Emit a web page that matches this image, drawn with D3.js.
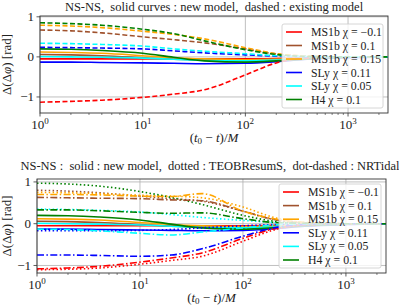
<!DOCTYPE html>
<html><head><meta charset="utf-8">
<script src="https://cdn.jsdelivr.net/npm/d3@7"></script>
<style>body{margin:0;background:#fff}svg{display:block}text{font-family:"Liberation Serif","DejaVu Serif",serif;fill:#222}</style>
</head><body><svg id="c" width="399" height="306"></svg>
<script>
// ---- data ----
const T = [1, 2, 4, 10, 20, 40, 100, 200, 400, 1000, 2450];
const labels = ["MS1b χ = −0.1", "MS1b χ = 0.1", "MS1b χ = 0.15", "SLy χ = 0.11", "SLy χ = 0.05", "H4 χ = 0.1"];
const colors = ["#ff0000", "#a0522d", "#ffa500", "#0000ff", "#00ffff", "#008000"];
const xTicks = [1, 10, 100, 1000];
const yTicks = [-1, 0, 1];
// new model (solid)
const newRed    = [-0.05, -0.05, -0.05, -0.05, -0.05, -0.05, -0.05, -0.04, -0.02, -0.01, 0];
const newBrown  = [0.06, 0.05, 0.03, -0.02, -0.06, -0.08, -0.08, -0.06, -0.03, -0.01, 0];
const newOrange = [0.12, 0.11, 0.09, 0.03, -0.02, -0.05, -0.07, -0.06, -0.03, -0.01, 0];
const newBlue   = [-0.13, -0.13, -0.14, -0.15, -0.16, -0.17, -0.16, -0.12, -0.06, -0.02, 0];
const newCyan   = [0.01, 0.0, -0.01, -0.03, -0.06, -0.09, -0.1, -0.08, -0.04, -0.01, 0];
const newGreen  = [0.2, 0.19, 0.16, 0.09, -0.01, -0.1, -0.13, -0.1, -0.05, -0.01, 0];
// existing model (dashed, top panel)
const oldRed    = [-1.13, -1.11, -1.08, -1.01, -0.93, -0.82, -0.45, -0.15, -0.03, 0, 0];
const oldBrown  = [0.67, 0.65, 0.6, 0.5, 0.43, 0.35, 0.2, 0.07, 0.02, 0, 0];
const oldOrange = [0.79, 0.77, 0.73, 0.64, 0.56, 0.45, 0.23, 0.08, 0.02, 0, 0];
const oldBlue   = [0.24, 0.23, 0.22, 0.2, 0.15, 0.1, 0.05, 0.02, 0.0, 0, 0];
const oldCyan   = [0.34, 0.33, 0.31, 0.27, 0.2, 0.14, 0.08, 0.03, 0.01, 0, 0];
const oldGreen  = [0.85, 0.83, 0.79, 0.69, 0.58, 0.4, 0.18, 0.06, 0.01, 0, 0];
// TEOBResumS (dotted, bottom panel)
const teobRed    = [-1.1, -1.09, -1.06, -0.97, -0.88, -0.78, -0.42, -0.15, -0.03, 0, 0];
const teobBrown  = [0.8, 0.78, 0.74, 0.66, 0.6, 0.54, 0.3, 0.1, 0.02, 0, 0];
const teobOrange = [0.75, 0.74, 0.72, 0.68, 0.66, 0.62, 0.4, 0.15, 0.03, 0, 0];
const teobBlue   = [-0.17, -0.17, -0.17, -0.16, -0.14, -0.1, -0.05, -0.02, 0, 0, 0];
const teobCyan   = [0.35, 0.34, 0.32, 0.28, 0.22, 0.15, 0.08, 0.03, 0.01, 0, 0];
const teobGreen  = [0.97, 0.95, 0.9, 0.77, 0.63, 0.46, 0.2, 0.06, 0.01, 0, 0];
// NRTidal (dot-dashed, bottom panel)
const nrtRed    = [-1.08, -1.06, -1.02, -0.92, -0.82, -0.7, -0.35, -0.12, -0.03, 0, 0];
const nrtBrown  = [0.63, 0.62, 0.61, 0.6, 0.57, 0.55, 0.3, 0.1, 0.02, 0, 0];
const nrtOrange = [0.7, 0.7, 0.69, 0.66, 0.65, 0.72, 0.3, 0.12, 0.03, 0, 0];
const nrtBlue   = [-0.75, -0.75, -0.76, -0.78, -0.75, -0.6, -0.3, -0.1, -0.02, 0, 0];
const nrtCyan   = [-0.13, -0.14, -0.17, -0.23, -0.27, -0.2, -0.1, -0.03, 0, 0, 0];
const nrtGreen  = [0.33, 0.33, 0.31, 0.27, 0.25, 0.26, 0.12, 0.03, 0.01, 0, 0];

const newModel = [newRed, newBrown, newOrange, newBlue, newCyan, newGreen];
const oldModel = [oldRed, oldBrown, oldOrange, oldBlue, oldCyan, oldGreen];
const teob = [teobRed, teobBrown, teobOrange, teobBlue, teobCyan, teobGreen];
const nrt = [nrtRed, nrtBrown, nrtOrange, nrtBlue, nrtCyan, nrtGreen];

// ---- drawing ----
const svg = d3.select("#c");
const DASH = "5,2.5", DOT = "1.5,2.4", DASHDOT = "7,2.4,1.5,2.4";

function panel(cfg) {
  const g = svg.append("g");
  const x = d3.scaleLog().domain([1, 2450]).range([cfg.left, cfg.right]);
  const y = d3.scaleLinear().domain(cfg.yDomain).range([cfg.bottom, cfg.top]);
  const id = "clip" + cfg.top;
  svg.append("clipPath").attr("id", id).append("rect")
    .attr("x", cfg.left).attr("y", cfg.top).attr("width", cfg.right - cfg.left).attr("height", cfg.bottom - cfg.top);
  // grid
  g.selectAll(".gx").data(xTicks).join("line").attr("x1", d => x(d)).attr("x2", d => x(d))
    .attr("y1", cfg.top).attr("y2", cfg.bottom).attr("stroke", "#b0b0b0").attr("stroke-width", 0.8);
  g.selectAll(".gy").data(yTicks).join("line").attr("y1", d => y(d)).attr("y2", d => y(d))
    .attr("x1", cfg.left).attr("x2", cfg.right).attr("stroke", "#b0b0b0").attr("stroke-width", 0.8);
  const line = d3.line().x((d, i) => x(T[i])).y(d => y(d)).curve(d3.curveMonotoneX);
  const lg = g.append("g").attr("clip-path", `url(#${id})`);
  cfg.series.forEach(s => {
    s.data.forEach((arr, k) => {
      lg.append("path").attr("d", line(arr)).attr("fill", "none").attr("stroke", colors[k])
        .attr("stroke-width", 1.6).attr("stroke-dasharray", s.dash || null);
    });
  });
  // frame
  g.append("rect").attr("x", cfg.left).attr("y", cfg.top).attr("width", cfg.right - cfg.left)
    .attr("height", cfg.bottom - cfg.top).attr("fill", "none").attr("stroke", "#333").attr("stroke-width", 0.9);
  // x ticks
  const minor = [];
  for (let dec = 1; dec <= 1000; dec *= 10) for (let m = 2; m <= 9; m++) if (m * dec <= 2450) minor.push(m * dec);
  g.selectAll(".mx").data(minor).join("line").attr("x1", d => x(d)).attr("x2", d => x(d))
    .attr("y1", cfg.bottom).attr("y2", cfg.bottom + 2).attr("stroke", "#333").attr("stroke-width", 0.6);
  g.selectAll(".tx").data(xTicks).join("line").attr("x1", d => x(d)).attr("x2", d => x(d))
    .attr("y1", cfg.bottom).attr("y2", cfg.bottom + 3.5).attr("stroke", "#333").attr("stroke-width", 0.8);
  const xl = g.selectAll(".xl").data(xTicks).join("text").attr("x", d => x(d)).attr("y", cfg.bottom + 16)
    .attr("text-anchor", "middle").attr("font-size", 13);
  xl.append("tspan").text("10");
  xl.append("tspan").attr("font-size", 9).attr("dy", -5.5).text(d => Math.round(Math.log10(d)));
  // y ticks
  g.selectAll(".ty").data(yTicks).join("line").attr("y1", d => y(d)).attr("y2", d => y(d))
    .attr("x1", cfg.left - 3.5).attr("x2", cfg.left).attr("stroke", "#333").attr("stroke-width", 0.8);
  g.selectAll(".yl").data(yTicks).join("text").attr("x", cfg.left - 6).attr("y", d => y(d) + 4.5)
    .attr("text-anchor", "end").attr("font-size", 13).text(d => d < 0 ? "−" + Math.abs(d) : d);
  // axis labels
  g.append("text").attr("x", (cfg.left + cfg.right) / 2).attr("y", cfg.bottom + 29).attr("text-anchor", "middle")
    .attr("font-size", 13).html('(<tspan font-style="italic">t</tspan><tspan font-size="9" dy="2">0</tspan><tspan dy="-2"> − </tspan><tspan font-style="italic">t</tspan>)/<tspan font-style="italic">M</tspan>');
  const cy = (cfg.top + cfg.bottom) / 2;
  g.append("text").attr("transform", `translate(${cfg.ylabX},${cy}) rotate(-90)`).attr("text-anchor", "middle")
    .attr("font-size", 13).html('Δ(Δ<tspan font-style="italic">φ</tspan>) [rad]');
  // title
  g.append("text").attr("x", cfg.titleX).attr("y", cfg.titleY).attr("text-anchor", "middle")
    .attr("font-size", 12.5).attr("xml:space", "preserve").text(cfg.title);
  // legend
  const L = cfg.legend;
  const lgg = g.append("g");
  lgg.append("rect").attr("x", L.x).attr("y", L.y).attr("width", L.w).attr("height", L.h).attr("rx", 2)
    .attr("fill", "#fff").attr("fill-opacity", 0.8).attr("stroke", "#ccc").attr("stroke-width", 0.8);
  labels.forEach((lab, k) => {
    const yy = L.y + 8 + k * L.step;
    lgg.append("line").attr("x1", L.x + 4).attr("x2", L.x + 20).attr("y1", yy).attr("y2", yy)
      .attr("stroke", colors[k]).attr("stroke-width", 1.6);
    lgg.append("text").attr("x", L.x + 29).attr("y", yy + 4).attr("font-size", 11.8).text(lab);
  });
}

panel({
  left: 40, right: 388, top: 16, bottom: 113, yDomain: [-1.4, 1.02], ylabX: 11,
  title: "NS-NS,  solid curves : new model,  dashed : existing model", titleX: 214, titleY: 11,
  series: [{data: newModel}, {data: oldModel, dash: DASH}],
  legend: {x: 282, y: 24, w: 101, h: 84, step: 13.5}
});
panel({
  left: 37, right: 386, top: 179, bottom: 273, yDomain: [-1.18, 1.07], ylabX: 11,
  title: "NS-NS :  solid : new model,  dotted : TEOBResumS,  dot-dashed : NRTidal", titleX: 210, titleY: 170,
  series: [{data: newModel}, {data: teob, dash: DOT}, {data: nrt, dash: DASHDOT}],
  legend: {x: 279, y: 184, w: 102, h: 84, step: 13.6}
});
</script></body></html>
